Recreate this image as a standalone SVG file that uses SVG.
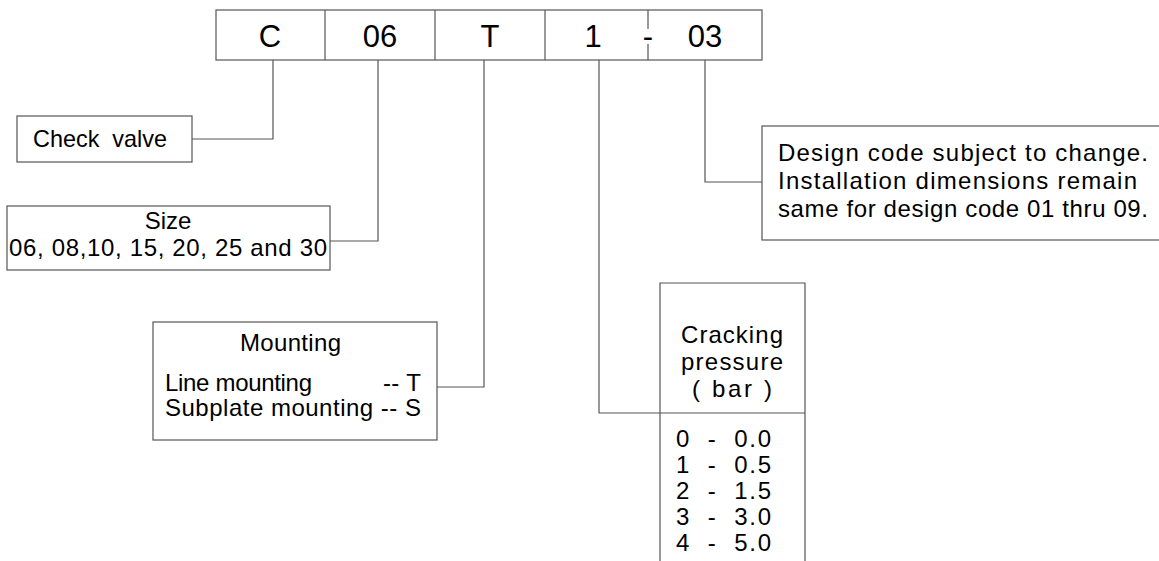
<svg xmlns="http://www.w3.org/2000/svg" width="1159" height="561" viewBox="0 0 1159 561">
<style>
rect.b{fill:#fff;stroke:#555;stroke-width:1.2}
.ln{fill:none;stroke:#555;stroke-width:1.2}
text{font-family:"Liberation Sans",Arial,sans-serif;fill:#000;white-space:pre}
.big{font-size:31px;text-anchor:middle}
.t{font-size:24px}
.c{text-anchor:middle}
</style>
<rect width="1159" height="561" fill="#fff"/>
<g id="code">
<rect class="b" x="216" y="10" width="546" height="50"/>
<line class="ln" x1="325" y1="10" x2="325" y2="60"/>
<line class="ln" x1="435" y1="10" x2="435" y2="60"/>
<line class="ln" x1="545" y1="10" x2="545" y2="60"/>
<line class="ln" x1="648" y1="10" x2="648" y2="29"/>
<line class="ln" x1="648" y1="44" x2="648" y2="60"/>
<text class="big" x="270" y="47">C</text>
<text class="big" x="380" y="47">06</text>
<text class="big" x="490" y="47">T</text>
<text class="big" x="593" y="47">1</text>
<text class="big" x="648" y="47">-</text>
<text class="big" x="705" y="47">03</text>
</g>
<g id="connectors">
<polyline class="ln" points="273,60 273,139 192,139"/>
<polyline class="ln" points="378,60 378,241 330,241"/>
<polyline class="ln" points="484,60 484,387 437,387"/>
<polyline class="ln" points="599,60 599,413 660,413"/>
<polyline class="ln" points="705,60 705,182 762,182"/>
</g>
<g id="check-valve">
<rect class="b" x="17" y="116" width="175" height="46"/>
<text class="t" x="33" y="147" textLength="134" lengthAdjust="spacingAndGlyphs">Check  valve</text>
</g>
<g id="size">
<rect class="b" x="7" y="206" width="323" height="64"/>
<text class="t c" x="168" y="229">Size</text>
<text class="t" x="9" y="256" textLength="318" lengthAdjust="spacing">06, 08,10, 15, 20, 25 and 30</text>
</g>
<g id="mounting">
<rect class="b" x="153" y="322" width="284" height="118"/>
<text class="t" x="240" y="351" textLength="101" lengthAdjust="spacing">Mounting</text>
<text class="t" x="165" y="391" textLength="147" lengthAdjust="spacing">Line mounting</text>
<text class="t" x="383" y="391" textLength="38" lengthAdjust="spacing">-- T</text>
<text class="t" x="165" y="416" textLength="256" lengthAdjust="spacing">Subplate mounting -- S</text>
</g>
<g id="cracking">
<polyline class="ln" points="660,570 660,283 805,283 805,570"/>
<line class="ln" x1="660" y1="413" x2="805" y2="413"/>
<text class="t" x="681" y="343" textLength="102" lengthAdjust="spacing">Cracking</text>
<text class="t" x="681" y="370" textLength="102" lengthAdjust="spacing">pressure</text>
<text class="t" x="692" y="397" textLength="80" lengthAdjust="spacing">( bar )</text>
<text class="t" x="676" y="447" textLength="95" lengthAdjust="spacing">0  -  0.0</text>
<text class="t" x="676" y="473" textLength="95" lengthAdjust="spacing">1  -  0.5</text>
<text class="t" x="676" y="499" textLength="95" lengthAdjust="spacing">2  -  1.5</text>
<text class="t" x="676" y="525" textLength="95" lengthAdjust="spacing">3  -  3.0</text>
<text class="t" x="676" y="551" textLength="95" lengthAdjust="spacing">4  -  5.0</text>
</g>
<g id="design">
<rect class="b" x="762" y="126" width="420" height="114"/>
<text class="t" x="778" y="161" textLength="370" lengthAdjust="spacing">Design code subject to change.</text>
<text class="t" x="778" y="189" textLength="359" lengthAdjust="spacing">Installation dimensions remain</text>
<text class="t" x="778" y="217" textLength="370" lengthAdjust="spacing">same for design code 01 thru 09.</text>
</g>
</svg>
